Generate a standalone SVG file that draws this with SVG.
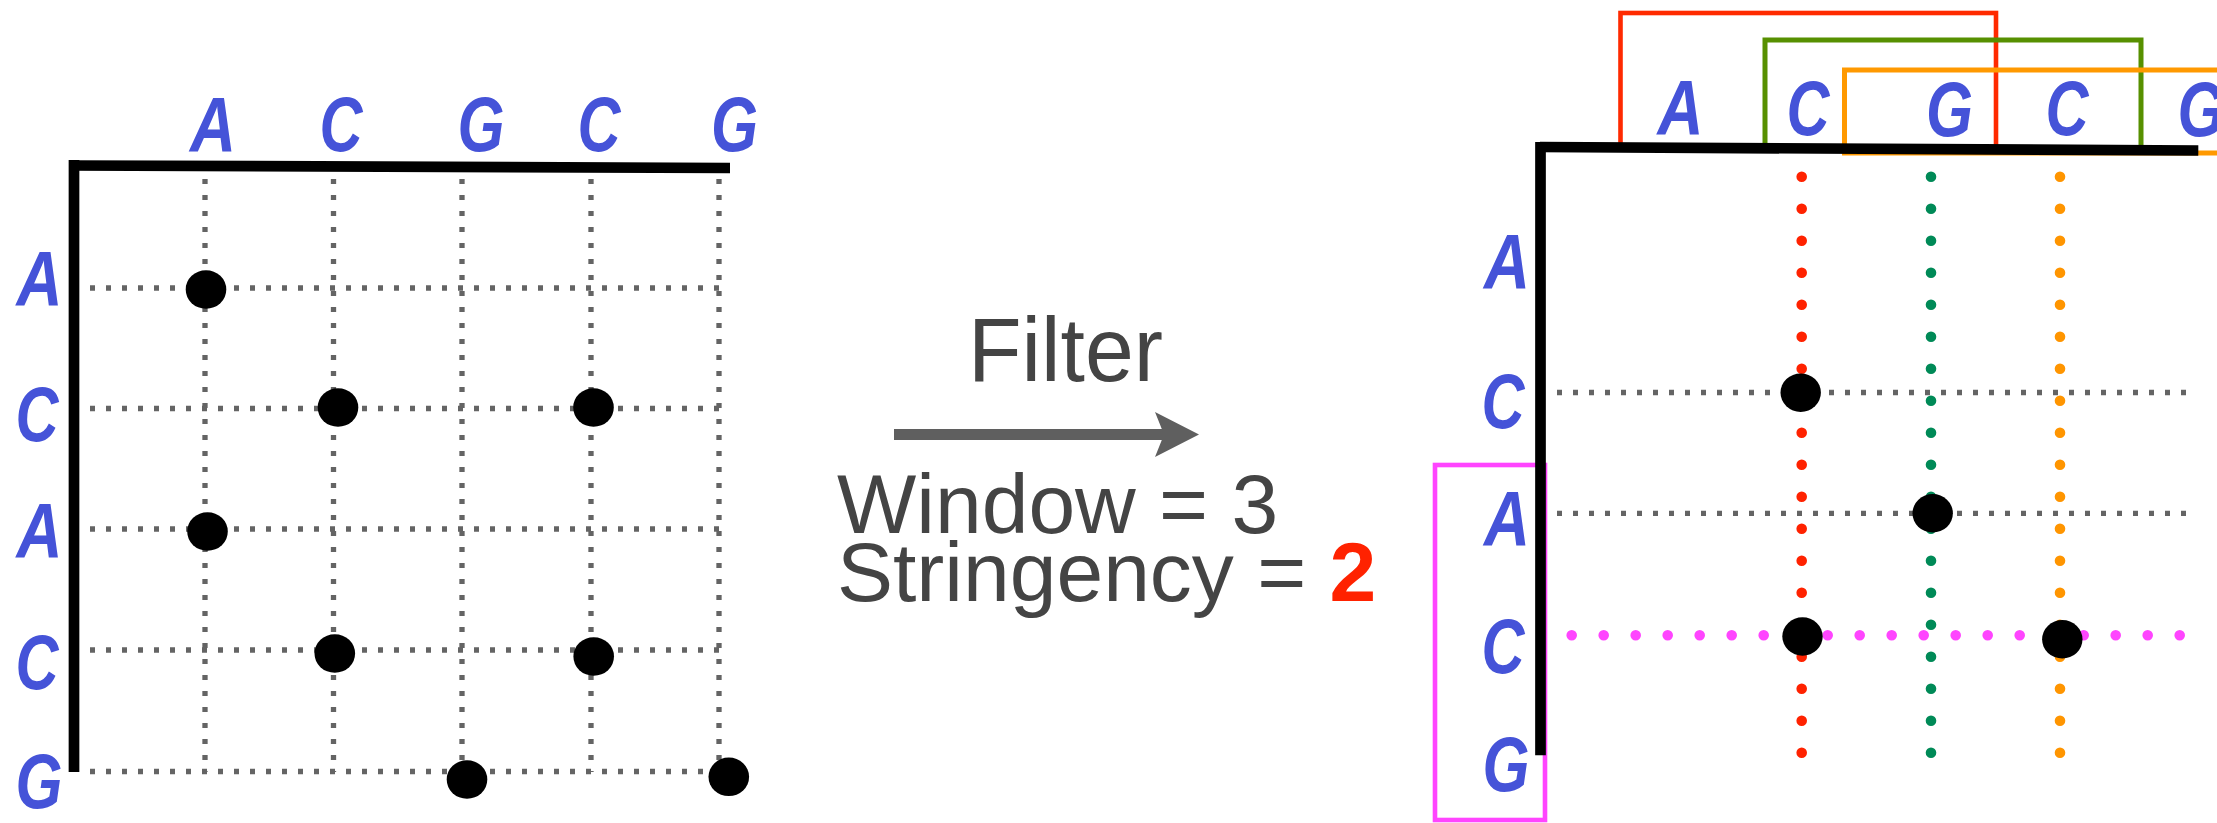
<svg xmlns="http://www.w3.org/2000/svg" width="2217" height="823" viewBox="0 0 2217 823">
<style>
.nt{font-family:"Liberation Sans",Arial,sans-serif;font-weight:bold;font-style:italic;font-size:78px;fill:#4553D8;text-anchor:middle}
.lbl{font-family:"Liberation Sans",Arial,sans-serif;fill:#444444}
.grid{stroke:#646464;stroke-width:5.3;stroke-dasharray:5 11;fill:none}
.axis{stroke:#000;stroke-width:10.7;fill:none}
.dot{fill:#000}
.cdots{stroke-width:10.6;stroke-linecap:round;stroke-dasharray:0 32;fill:none}
</style>
<rect width="2217" height="823" fill="#fff"/>

<g id="left-matrix">
  <g id="left-grid">
    <line class="grid" x1="205" y1="179" x2="205" y2="772"/>
    <line class="grid" x1="333.5" y1="179" x2="333.5" y2="772"/>
    <line class="grid" x1="462" y1="179" x2="462" y2="772"/>
    <line class="grid" x1="591" y1="179" x2="591" y2="772"/>
    <line class="grid" x1="719" y1="179" x2="719" y2="772"/>
    <line class="grid" x1="90" y1="288" x2="722" y2="288"/>
    <line class="grid" x1="90" y1="408.5" x2="722" y2="408.5"/>
    <line class="grid" x1="90" y1="529" x2="722" y2="529"/>
    <line class="grid" x1="90" y1="650" x2="722" y2="650"/>
    <line class="grid" x1="90" y1="771.5" x2="722" y2="771.5"/>
  </g>
  <g id="left-axes">
    <line class="axis" x1="74" y1="160" x2="74" y2="772"/>
    <line class="axis" x1="70" y1="165.5" x2="730" y2="168"/>
  </g>
  <g id="left-dots">
    <ellipse class="dot" cx="206" cy="289.5" rx="20.3" ry="19.3"/>
    <ellipse class="dot" cx="338" cy="407.5" rx="20.3" ry="19.3"/>
    <ellipse class="dot" cx="593.5" cy="407.5" rx="20.3" ry="19.3"/>
    <ellipse class="dot" cx="207.5" cy="531.5" rx="20.3" ry="19.3"/>
    <ellipse class="dot" cx="334.8" cy="653.5" rx="20.3" ry="19.3"/>
    <ellipse class="dot" cx="593.7" cy="656.5" rx="20.3" ry="19.3"/>
    <ellipse class="dot" cx="467" cy="779.5" rx="20.3" ry="19.3"/>
    <ellipse class="dot" cx="728.8" cy="776.8" rx="20.3" ry="19.3"/>
  </g>
  <g id="left-top-letters">
    <text class="nt" x="213" y="152" textLength="46" lengthAdjust="spacingAndGlyphs">A</text>
    <text class="nt" x="341" y="151" textLength="43" lengthAdjust="spacingAndGlyphs">C</text>
    <text class="nt" x="481" y="151" textLength="47" lengthAdjust="spacingAndGlyphs">G</text>
    <text class="nt" x="599" y="151" textLength="43" lengthAdjust="spacingAndGlyphs">C</text>
    <text class="nt" x="734.5" y="151" textLength="47" lengthAdjust="spacingAndGlyphs">G</text>
  </g>
  <g id="left-side-letters">
    <text class="nt" x="39.5" y="306" textLength="46" lengthAdjust="spacingAndGlyphs">A</text>
    <text class="nt" x="37" y="441" textLength="43" lengthAdjust="spacingAndGlyphs">C</text>
    <text class="nt" x="39.5" y="558" textLength="46" lengthAdjust="spacingAndGlyphs">A</text>
    <text class="nt" x="37" y="689" textLength="43" lengthAdjust="spacingAndGlyphs">C</text>
    <text class="nt" x="39" y="808" textLength="47" lengthAdjust="spacingAndGlyphs">G</text>
  </g>
</g>

<g id="filter-step">
  <text class="lbl" x="968" y="381" font-size="90" textLength="195" lengthAdjust="spacingAndGlyphs">Filter</text>
  <g id="connectors">
    <rect x="894" y="429" width="270" height="11" fill="#5f5f5f"/>
    <polygon points="1155,412 1199,434.5 1155,457 1164,434.5" fill="#5f5f5f"/>
  </g>
  <text class="lbl" x="837" y="532.5" font-size="84">Window = 3</text>
  <text class="lbl" x="837" y="601" font-size="84">Stringency = <tspan font-weight="bold" fill="#FF2200">2</tspan></text>
</g>

<g id="right-matrix">
  <g id="windows">
    <rect x="1620.5" y="13" width="375.5" height="134" fill="none" stroke="#FF2A00" stroke-width="4.6"/>
    <rect x="1765" y="40" width="376" height="108" fill="none" stroke="#579000" stroke-width="5"/>
    <rect x="1844.5" y="70" width="420" height="83" fill="none" stroke="#FF9900" stroke-width="5"/>
    <rect x="1435" y="465" width="110" height="355" fill="none" stroke="#FF45FF" stroke-width="4.6"/>
  </g>
  <g id="right-grid">
    <line class="grid" x1="1557" y1="392.5" x2="2190" y2="392.5"/>
    <line class="grid" x1="1557" y1="513.3" x2="2190" y2="513.3"/>
    <line class="cdots" stroke="#FF2200" x1="1801.7" y1="176.7" x2="1801.7" y2="753"/>
    <line class="cdots" stroke="#008A57" x1="1931" y1="176.7" x2="1931" y2="753"/>
    <line class="cdots" stroke="#FF9500" x1="2060" y1="176.7" x2="2060" y2="753"/>
    <line class="cdots" stroke="#FF45FF" x1="1571.7" y1="635.3" x2="2181" y2="635.3"/>
  </g>
  <g id="right-axes">
    <line class="axis" x1="1540.5" y1="142" x2="1540.5" y2="755.3"/>
    <line class="axis" x1="1540" y1="147" x2="2198.3" y2="150.5"/>
  </g>
  <g id="right-dots">
    <ellipse class="dot" cx="1800.7" cy="392.7" rx="20.2" ry="19.2"/>
    <ellipse class="dot" cx="1932.7" cy="513.3" rx="20.2" ry="19.2"/>
    <ellipse class="dot" cx="1802.5" cy="636.5" rx="20.2" ry="19.2"/>
    <ellipse class="dot" cx="2062.3" cy="639.3" rx="20.2" ry="19.2"/>
  </g>
  <g id="right-top-letters">
    <text class="nt" x="1680.5" y="135" textLength="46" lengthAdjust="spacingAndGlyphs">A</text>
    <text class="nt" x="1808" y="135" textLength="43" lengthAdjust="spacingAndGlyphs">C</text>
    <text class="nt" x="1949.5" y="136" textLength="47" lengthAdjust="spacingAndGlyphs">G</text>
    <text class="nt" x="2067" y="135" textLength="43" lengthAdjust="spacingAndGlyphs">C</text>
    <text class="nt" x="2201" y="136" textLength="47" lengthAdjust="spacingAndGlyphs">G</text>
  </g>
  <g id="right-side-letters">
    <text class="nt" x="1507" y="289" textLength="46" lengthAdjust="spacingAndGlyphs">A</text>
    <text class="nt" x="1503" y="428" textLength="43" lengthAdjust="spacingAndGlyphs">C</text>
    <text class="nt" x="1507" y="546" textLength="46" lengthAdjust="spacingAndGlyphs">A</text>
    <text class="nt" x="1503" y="673" textLength="43" lengthAdjust="spacingAndGlyphs">C</text>
    <text class="nt" x="1506" y="791" textLength="47" lengthAdjust="spacingAndGlyphs">G</text>
  </g>
</g>
</svg>
